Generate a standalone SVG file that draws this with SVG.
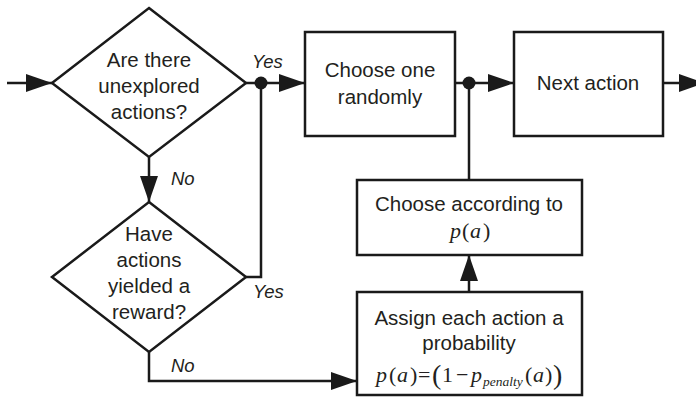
<svg xmlns="http://www.w3.org/2000/svg" width="696" height="397" viewBox="0 0 696 397">
<defs>
<style>
.shape{fill:#fff;stroke:#1a1a1a;stroke-width:2.5;stroke-linejoin:miter}
.wire{fill:none;stroke:#1a1a1a;stroke-width:2.5}
.t{font-family:"Liberation Sans",Arial,sans-serif;font-size:20.5px;fill:#231f20;text-anchor:middle}
.lbl{font-family:"Liberation Sans",Arial,sans-serif;font-size:18.5px;font-style:italic;fill:#231f20}
.m{font-family:"Liberation Serif","Times New Roman",serif;font-size:22px;fill:#231f20}
.mi{font-style:italic}
.dot{fill:#1a1a1a}
</style>
<marker id="arr" markerUnits="userSpaceOnUse" markerWidth="27" markerHeight="18" refX="26" refY="9" orient="auto">
<path d="M0,0 L26,9 L0,18 z" fill="#1a1a1a"/>
</marker>
</defs>
<rect width="696" height="397" fill="#fff"/>
<g id="connectors">
<line class="wire" x1="7" y1="83" x2="52" y2="83" marker-end="url(#arr)"/>
<line class="wire" x1="246" y1="83" x2="305" y2="83" marker-end="url(#arr)"/>
<line class="wire" x1="149" y1="157" x2="149" y2="202" marker-end="url(#arr)"/>
<polyline class="wire" points="246,277 261,277 261,83"/>
<polyline class="wire" points="149,352 149,381 357,381" marker-end="url(#arr)"/>
<line class="wire" x1="469" y1="292" x2="469" y2="255" marker-end="url(#arr)"/>
<line class="wire" x1="469" y1="180" x2="469" y2="83"/>
<line class="wire" x1="455" y1="83" x2="514" y2="83" marker-end="url(#arr)"/>
<line class="wire" x1="663" y1="83" x2="705" y2="83" marker-end="url(#arr)"/>
<circle class="dot" cx="261" cy="83" r="6.5"/>
<circle class="dot" cx="469" cy="83" r="6.5"/>
<text class="lbl" x="252" y="68">Yes</text>
<text class="lbl" x="171" y="185">No</text>
<text class="lbl" x="253" y="298">Yes</text>
<text class="lbl" x="171" y="372">No</text>
</g>
<g id="d1">
<polygon class="shape" points="149,8 246,83 149,157 52,83"/>
<text class="t" x="149" y="67">Are there</text>
<text class="t" x="149" y="93">unexplored</text>
<text class="t" x="149" y="119">actions?</text>
</g>
<g id="d2">
<polygon class="shape" points="149,202 246,277 149,352 52,277"/>
<text class="t" x="149" y="241">Have</text>
<text class="t" x="149" y="267">actions</text>
<text class="t" x="149" y="293">yielded a</text>
<text class="t" x="149" y="319">reward?</text>
</g>
<g id="b1">
<rect class="shape" x="305" y="32" width="150" height="104"/>
<text class="t" x="380" y="77">Choose one</text>
<text class="t" x="380" y="104">randomly</text>
</g>
<g id="b2">
<rect class="shape" x="514" y="32" width="149" height="104"/>
<text class="t" x="588" y="90">Next action</text>
</g>
<g id="b3">
<rect class="shape" x="357" y="180" width="225" height="75"/>
<text class="t" x="469" y="211">Choose according to</text>
<text class="m" y="238"><tspan class="mi" x="450">p</tspan><tspan x="462">(</tspan><tspan class="mi" x="470">a</tspan><tspan x="483">)</tspan></text>
</g>
<g id="b4">
<rect class="shape" x="357" y="292" width="225" height="103"/>
<text class="t" x="469" y="325">Assign each action a</text>
<text class="t" x="469" y="350">probability</text>
<text class="m" y="382"><tspan class="mi" x="376">p</tspan><tspan x="389">(</tspan><tspan class="mi" x="397">a</tspan><tspan x="410">)</tspan><tspan x="418">=</tspan><tspan x="432" font-size="28" y="384">(</tspan><tspan x="442" y="382">1</tspan><tspan x="456">−</tspan><tspan class="mi" x="471">p</tspan><tspan class="mi" x="483" y="386" font-size="13.5">penalty</tspan><tspan x="525" y="382">(</tspan><tspan class="mi" x="533">a</tspan><tspan x="545">)</tspan><tspan x="553" font-size="28" y="384">)</tspan></text>
</g>
</svg>
